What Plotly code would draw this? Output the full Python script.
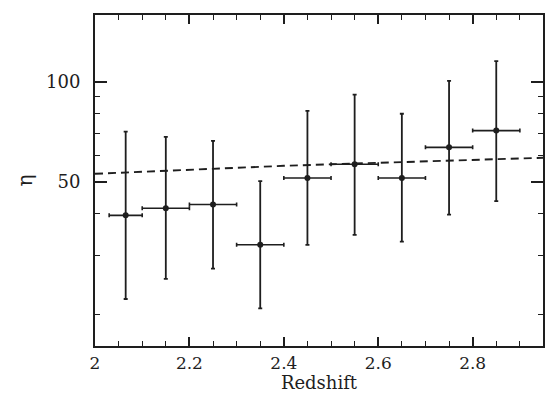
import plotly.graph_objects as go

# Data
redshift = [2.065, 2.15, 2.25, 2.35, 2.45, 2.55, 2.65, 2.75, 2.85]
bin_lo = [2.03, 2.10, 2.20, 2.30, 2.40, 2.50, 2.60, 2.70, 2.80]
bin_hi = [2.10, 2.20, 2.30, 2.40, 2.50, 2.60, 2.70, 2.80, 2.90]
eta = [39.6, 41.6, 42.7, 32.3, 51.3, 56.4, 51.3, 63.4, 71.2]
eta_lo = [22.2, 25.5, 27.4, 20.8, 32.3, 34.6, 33.0, 39.8, 43.7]
eta_hi = [70.7, 68.2, 66.3, 50.2, 81.6, 91.3, 80.0, 100.5, 115.1]

model_z = [2.0, 2.1, 2.2, 2.3, 2.4, 2.5, 2.6, 2.7, 2.8, 2.9, 2.95]
model_eta = [52.8, 53.6, 54.3, 55.1, 55.8, 56.4, 57.0, 57.6, 58.2, 58.7, 59.0]

y_major = [50, 100]
y_minor = [20, 30, 40, 60, 70, 80, 90]

ink = "#1e1e1e"
font = "DejaVu Serif"

fig = go.Figure()

fig.add_trace(go.Scatter(
    x=model_z, y=model_eta, mode="lines",
    line=dict(color=ink, width=1.9, dash="8px,5px"),
    showlegend=False, hoverinfo="skip",
))

fig.add_trace(go.Scatter(
    x=redshift, y=eta, mode="markers",
    marker=dict(color=ink, size=6, symbol="circle"),
    error_x=dict(type="data", symmetric=False,
                 array=[h - x for h, x in zip(bin_hi, redshift)],
                 arrayminus=[x - l for l, x in zip(bin_lo, redshift)],
                 color=ink, thickness=1.6, width=2),
    error_y=dict(type="data", symmetric=False,
                 array=[h - y for h, y in zip(eta_hi, eta)],
                 arrayminus=[y - l for l, y in zip(eta_lo, eta)],
                 color=ink, thickness=1.8, width=2),
    showlegend=False,
))

# page body adds an 8px offset, so the figure is drawn 8px smaller
fig.update_layout(
    width=552, height=385,
    margin=dict(l=87, r=17, t=5, b=47),
    paper_bgcolor="white", plot_bgcolor="white",
    font=dict(family=font, color=ink, size=17),
    xaxis=dict(
        range=[2.0, 2.949],
        tickvals=[2.0, 2.2, 2.4, 2.6, 2.8],
        ticktext=["2", "2.2", "2.4", "2.6", "2.8"],
        ticks="inside", ticklen=9, tickwidth=1.6, tickcolor=ink,
        minor=dict(dtick=0.05, ticks="inside", ticklen=5, tickwidth=1.4, tickcolor=ink, showgrid=False),
        showline=True, linecolor=ink, linewidth=2, mirror="allticks",
        showgrid=False, zeroline=False,
        ticklabelstandoff=1,
        title=dict(text="Redshift", standoff=1, font=dict(size=18)),
        tickfont=dict(size=17),
    ),
    yaxis=dict(
        type="log",
        range=[1.205, 2.2],
        tickvals=y_major,
        ticktext=[str(v) for v in y_major],
        ticks="inside", ticklen=12, tickwidth=1.6, tickcolor=ink,
        minor=dict(tickvals=y_minor, ticks="inside", ticklen=5, tickwidth=1.4, tickcolor=ink, showgrid=False),
        showline=True, linecolor=ink, linewidth=2, mirror="allticks",
        showgrid=False, zeroline=False,
        ticklabelstandoff=9,
        title=dict(text="η", standoff=8, font=dict(size=20)),
        tickfont=dict(size=18),
    ),
)

fig.write_html("out.html")
